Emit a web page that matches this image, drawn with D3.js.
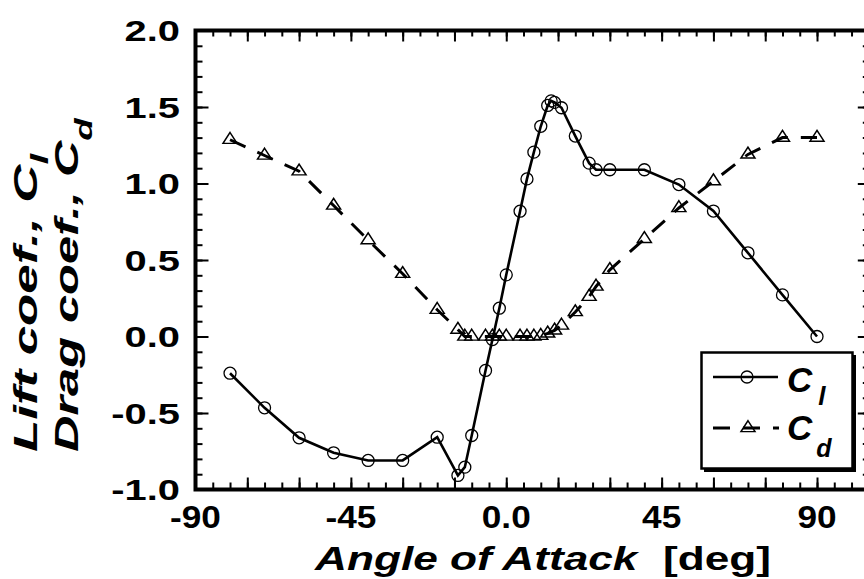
<!DOCTYPE html>
<html>
<head>
<meta charset="utf-8">
<script src="https://cdn.jsdelivr.net/npm/d3@7/dist/d3.min.js"></script>
<style>
  body { margin: 0; background: #fff; }
  svg text { font-family: "Liberation Sans", Arial, Helvetica, sans-serif; font-weight: bold; fill: #000; }
</style>
</head>
<body>
<svg id="chart" width="864" height="579"></svg>
<script>
// lift coefficient vs angle of attack
const clAngle = [-80, -70, -60, -50, -40, -30, -20, -14, -12, -10, -6, -4, -2, 0, 4, 6, 8, 10, 12, 13, 14, 16, 20, 24, 26, 30, 40, 50, 60, 70, 80, 90];
const clValue = [-0.24, -0.466, -0.662, -0.76, -0.81, -0.81, -0.658, -0.908, -0.854, -0.647, -0.222, -0.02, 0.185, 0.403, 0.819, 1.03, 1.205, 1.374, 1.51, 1.54, 1.53, 1.495, 1.31, 1.133, 1.09, 1.09, 1.09, 0.993, 0.82, 0.547, 0.272, 0.0];

// drag coefficient vs angle of attack
const cdAngle = [-80, -70, -60, -50, -40, -30, -20, -14, -12, -10, -6, -4, -2, 0, 4, 6, 8, 10, 12, 14, 16, 20, 24, 26, 30, 40, 50, 60, 70, 80, 90];
const cdValue = [1.286, 1.183, 1.08, 0.856, 0.63, 0.41, 0.175, 0.045, 0, 0, 0, 0, 0, 0, 0, 0, 0, 0.005, 0.02, 0.04, 0.072, 0.16, 0.26, 0.327, 0.436, 0.638, 0.84, 1.015, 1.19, 1.30, 1.30];

// tick labels
const xTickValues = [-90, -45, 0, 45, 90];
const xTickLabels = ["-90", "-45", "0.0", "45", "90"];
const yTickValues = [-1, -0.5, 0, 0.5, 1, 1.5, 2];
const yTickLabels = ["-1.0", "-0.5", "0.0", "0.5", "1.0", "1.5", "2.0"];

const clData = clAngle.map((a, i) => ({ a: a, v: clValue[i] }));
const cdData = cdAngle.map((a, i) => ({ a: a, v: cdValue[i] }));

const svg = d3.select("#chart");

var x = d3.scaleLinear().domain([-90, 105]).range([195.5, 868.8]);
var y = d3.scaleLinear().domain([-1, 2]).range([489.5, 30.5]);

// inward ticks on all four sides
function ticks(axis, tr, vals, size) {
    svg.append("g")
        .attr("transform", tr)
        .call(axis.tickValues(vals).tickSize(-size).tickFormat(""))
        .call(g => g.select(".domain").remove())
        .call(g => g.selectAll("line").attr("stroke", "#000").attr("stroke-width", 2));
}
const xMinor = d3.range(-90, 105.1, 5), xMajor = d3.range(-90, 105.1, 15);
const yMinor = d3.range(-10, 20.1, 1).map(d => d / 10), yMajor = d3.range(-2, 4.1, 1).map(d => d / 2);

ticks(d3.axisBottom(x), "translate(0," + y(-1) + ")", xMinor, 7);
ticks(d3.axisBottom(x), "translate(0," + y(-1) + ")", xMajor, 12);
ticks(d3.axisTop(x), "translate(0," + y(2) + ")", xMinor, 6);
ticks(d3.axisTop(x), "translate(0," + y(2) + ")", xMajor, 11);
ticks(d3.axisLeft(y), "translate(" + x(-90) + ",0)", yMinor, 7);
ticks(d3.axisLeft(y), "translate(" + x(-90) + ",0)", yMajor, 13);
ticks(d3.axisRight(y), "translate(" + x(105) + ",0)", yMinor, 6);
ticks(d3.axisRight(y), "translate(" + x(105) + ",0)", yMajor, 11);

// frame
svg.append("rect")
    .attr("x", x(-90)).attr("y", y(2))
    .attr("width", x(105) - x(-90)).attr("height", y(-1) - y(2))
    .attr("fill", "none").attr("stroke", "#000").attr("stroke-width", 4);

// tick labels
svg.append("g").selectAll("text")
    .data(yTickValues)
    .join("text")
    .attr("transform", d => "translate(180," + (y(d) + 10.5) + ") scale(1.33,1)")
    .attr("text-anchor", "end")
    .attr("font-size", 30)
    .text((d, i) => yTickLabels[i]);

svg.append("g").selectAll("text")
    .data(xTickValues)
    .join("text")
    .attr("transform", d => "translate(" + x(d) + ",528) scale(1.1,1)")
    .attr("text-anchor", "middle")
    .attr("font-size", 32)
    .text((d, i) => xTickLabels[i]);

// axis titles
svg.append("text")
    .attr("transform", "translate(315,570) scale(1.3,1)")
    .attr("font-size", 34).attr("font-style", "italic")
    .text("Angle of Attack");
svg.append("text")
    .attr("transform", "translate(663,570) scale(1.3,1)")
    .attr("font-size", 34)
    .text("[deg]");

const t1 = svg.append("text")
    .attr("transform", "translate(37,452) rotate(-90) scale(1.6,1)")
    .attr("font-size", 33).attr("font-style", "italic");
t1.append("tspan").text("Lift coef., C");
t1.append("tspan").attr("font-size", 24).attr("dy", 11).text("l");

const t2 = svg.append("text")
    .attr("transform", "translate(78,452) rotate(-90) scale(1.53,1)")
    .attr("font-size", 33).attr("font-style", "italic");
t2.append("tspan").text("Drag coef., C");
t2.append("tspan").attr("font-size", 24).attr("dy", 14).text("d");

// curves
const line = d3.line().x(d => x(d.a)).y(d => y(d.v));

svg.append("path")
    .datum(cdData)
    .attr("d", line)
    .attr("fill", "none").attr("stroke", "#000")
    .attr("stroke-width", 3).attr("stroke-dasharray", "17,13");

svg.append("path")
    .datum(clData)
    .attr("d", line)
    .attr("fill", "none").attr("stroke", "#000").attr("stroke-width", 2.6);

const tri = d3.symbol().type(d3.symbolTriangle).size(68);

svg.append("g").selectAll("path")
    .data(cdData)
    .join("path")
    .attr("transform", d => "translate(" + x(d.a) + "," + y(d.v) + ") scale(1.12,1)")
    .attr("d", tri)
    .attr("fill", "none").attr("stroke", "#000").attr("stroke-width", 1.4);

svg.append("g").selectAll("circle")
    .data(clData)
    .join("circle")
    .attr("cx", d => x(d.a)).attr("cy", d => y(d.v))
    .attr("r", 6)
    .attr("fill", "none").attr("stroke", "#000").attr("stroke-width", 1.3);

// legend
const lg = svg.append("g");
lg.append("rect").attr("x", 704).attr("y", 355).attr("width", 152).attr("height", 117).attr("fill", "#000");
lg.append("rect").attr("x", 701.5).attr("y", 352.5).attr("width", 151).attr("height", 116)
    .attr("fill", "#fff").attr("stroke", "#000").attr("stroke-width", 2.5);

lg.append("line").attr("x1", 713).attr("x2", 778).attr("y1", 377).attr("y2", 377)
    .attr("stroke", "#000").attr("stroke-width", 2.6);
lg.append("circle").attr("cx", 747).attr("cy", 377).attr("r", 6)
    .attr("fill", "none").attr("stroke", "#000").attr("stroke-width", 1.3);
lg.append("line").attr("x1", 713).attr("x2", 779).attr("y1", 428).attr("y2", 428)
    .attr("stroke", "#000").attr("stroke-width", 3).attr("stroke-dasharray", "17,13");
lg.append("path").attr("transform", "translate(748,428) scale(1.12,1)").attr("d", tri)
    .attr("fill", "none").attr("stroke", "#000").attr("stroke-width", 1.4);

const l1 = lg.append("text").attr("x", 787).attr("y", 392).attr("font-size", 35).attr("font-style", "italic");
l1.append("tspan").text("C");
l1.append("tspan").attr("font-size", 26).attr("dx", 6).attr("dy", 13).text("l");
const l2 = lg.append("text").attr("x", 787).attr("y", 440).attr("font-size", 35).attr("font-style", "italic");
l2.append("tspan").text("C");
l2.append("tspan").attr("font-size", 25).attr("dx", 4).attr("dy", 17).text("d");
</script>
</body>
</html>
